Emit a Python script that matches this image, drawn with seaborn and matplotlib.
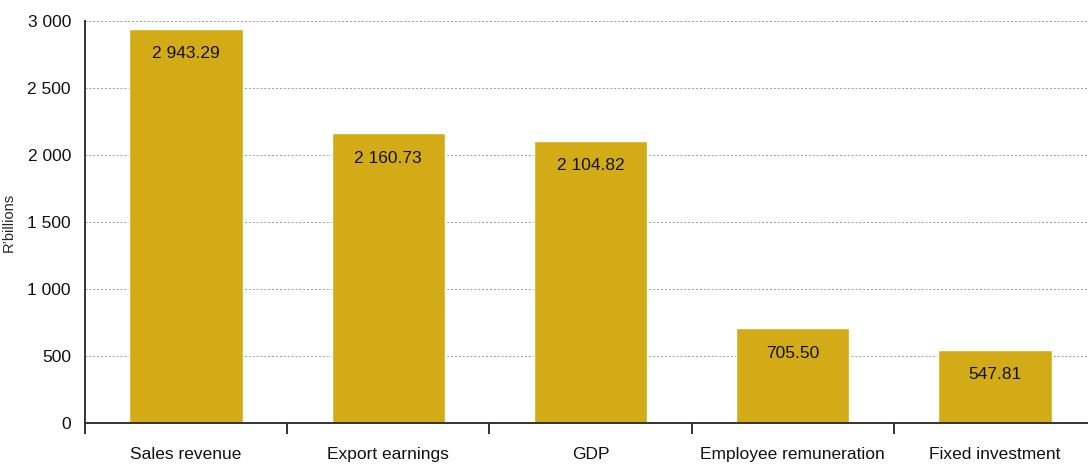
import matplotlib
matplotlib.use("Agg")
import matplotlib.pyplot as plt
import seaborn as sns
import pandas as pd
from matplotlib.ticker import FixedLocator, FuncFormatter

categories = ["Sales revenue", "Export earnings", "GDP", "Employee remuneration", "Fixed investment"]
values = [2943.29, 2160.73, 2104.82, 705.50, 547.81]
labels = ["2 943.29", "2 160.73", "2 104.82", "705.50", "547.81"]

sns.set_style("white")
plt.rcParams["font.family"] = ["Liberation Sans", "DejaVu Sans"]

df = pd.DataFrame({"cat": categories, "val": values})

fig = plt.figure(figsize=(10.88, 4.68), dpi=100)
ax = fig.add_axes([0.078, 0.0962, 0.922, 0.859])
sns.barplot(data=df, x="cat", y="val", color="#D3AB17", saturation=1, width=0.56, ax=ax)

ax.set_xlim(-0.5, 4.46)
ax.set_ylim(0, 3000)
ax.set_yticks(range(0, 3001, 500))
ax.yaxis.set_major_formatter(FuncFormatter(lambda v, p: f"{int(v):,}".replace(",", " ")))
ax.grid(axis="y", color="#999999", linestyle=(0, (2, 2)), linewidth=0.7)
ax.set_axisbelow(True)

for s in ["top", "right"]:
    ax.spines[s].set_visible(False)
for s in ["left", "bottom"]:
    ax.spines[s].set_color("#333333")
    ax.spines[s].set_linewidth(1.4)

ax.xaxis.set_minor_locator(FixedLocator([-0.5, 0.5, 1.5, 2.5, 3.5, 4.5]))
ax.tick_params(axis="x", which="major", length=0, labelsize=12.5, pad=17, colors="#111111")
ax.tick_params(axis="x", which="minor", length=8, width=1.4, color="#333333", direction="out", bottom=True)
ax.tick_params(axis="y", length=0, labelsize=12.5, pad=10, colors="#111111")
ax.set_xlabel("")
ax.set_ylabel("R’billions", fontsize=10.5, labelpad=8)

for i, (v, t) in enumerate(zip(values, labels)):
    ax.annotate(t, (i, v), xytext=(0, -18), textcoords="offset points",
                ha="center", va="center", fontsize=12.5, color="#111111")

fig.savefig("out.png", dpi=100)
